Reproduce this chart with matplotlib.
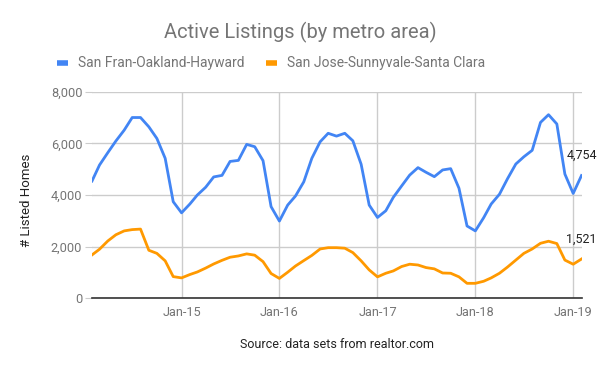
import matplotlib
matplotlib.use("Agg")
import matplotlib.pyplot as plt
from matplotlib.lines import Line2D
import pandas as pd

plt.rcParams['font.family'] = ['Roboto', 'DejaVu Sans']

dates = pd.date_range("2014-02-01", "2019-02-01", freq="MS")

sf_oakland = [
    4540, 5160, 5640, 6090, 6510, 7000, 7000, 6640, 6190, 5420, 3740,
    3310, 3650, 4000, 4300, 4700, 4760, 5300, 5340, 5960, 5870, 5330, 3550,
    2990, 3610, 3960, 4510, 5420, 6060, 6390, 6280, 6390, 6100, 5190, 3610,
    3130, 3390, 3910, 4350, 4770, 5060, 4880, 4710, 4970, 5020, 4260, 2800,
    2610, 3120, 3650, 4030, 4630, 5200, 5480, 5730, 6810, 7110, 6750, 4810,
    4060, 4754,
]
sj_santa_clara = [
    1680, 1900, 2220, 2460, 2610, 2660, 2680, 1860, 1740, 1450, 840,
    790, 920, 1020, 1170, 1330, 1470, 1590, 1640, 1720, 1670, 1420, 960,
    770, 1010, 1250, 1460, 1660, 1910, 1960, 1960, 1940, 1770, 1450, 1100,
    830, 970, 1060, 1230, 1320, 1290, 1190, 1140, 980, 970, 830, 580,
    580, 660, 790, 970, 1210, 1480, 1740, 1910, 2130, 2210, 2120, 1480,
    1320, 1521,
]
series_names = ["San Fran-Oakland-Hayward", "San Jose-Sunnyvale-Santa Clara"]
colors = ["#4285F4", "#FF9900"]
y_ticks = [0, 2000, 4000, 6000, 8000]
x_tick_dates = pd.to_datetime(["2015-01-01", "2016-01-01", "2017-01-01", "2018-01-01", "2019-01-01"])
x_tick_labels = ["Jan-15", "Jan-16", "Jan-17", "Jan-18", "Jan-19"]

W, H = 600, 371
fig = plt.figure(figsize=(6, 3.71), dpi=100)
ax = fig.add_axes([92/W, 1 - 298.3/H, (581.5-92)/W, (298.3-91.7)/H])

for vals, c, n in zip([sf_oakland, sj_santa_clara], colors, series_names):
    ax.plot(dates, vals, color=c, lw=2, label=n, solid_joinstyle='round', zorder=3)

ax.set_xlim(dates[0], dates[-1])
ax.set_ylim(0, 8000)
ax.set_yticks(y_ticks)
ax.set_yticklabels([f"{v:,}" for v in y_ticks])
ax.set_xticks(x_tick_dates)
ax.set_xticklabels(x_tick_labels)
ax.grid(True, color="#cccccc", lw=1, zorder=0)
for s in ["top", "right", "left"]:
    ax.spines[s].set_visible(False)
ax.spines["bottom"].set_color("#333333")
ax.spines["bottom"].set_linewidth(1.2)
ax.spines["bottom"].set_zorder(4)
ax.tick_params(axis='y', length=5, color="#cccccc", labelcolor="#757575", labelsize=9.2, pad=2)
ax.tick_params(axis='x', length=0, labelcolor="#757575", labelsize=9.2, pad=5.5)

fig.text(27/W, 1 - 200/H, "# Listed Homes", rotation=90, ha="center", va="center",
         color="#222222", fontsize=9.5)

# end annotations
for vals in [sf_oakland, sj_santa_clara]:
    ax.annotate(f"{vals[-1]:,}", xy=(dates[-1], vals[-1]), xytext=(0, 11.8),
                textcoords="offset points", ha="center", va="baseline",
                fontsize=9, color="#222222", zorder=5)

fig.text(300/W, 1 - 32/H, "Active Listings (by metro area)", ha="center", va="center",
         fontsize=14.5, color="#757575")

# legend (drawn manually in figure pixel positions)
legend_items = [(56.7, 77.5, 0), (265.7, 286.7, 1)]
for mx, tx, i in legend_items:
    fig.add_artist(Line2D([mx/W, (mx + 11.5)/W], [1 - 63.3/H, 1 - 63.3/H],
                          transform=fig.transFigure, color=colors[i], lw=4,
                          solid_capstyle='butt'))
    fig.text(tx/W, 1 - 63.3/H, series_names[i], ha="left", va="center",
             fontsize=10, color="#757575")

fig.text(336.5/W, 1 - 345/H, "Source: data sets from realtor.com", ha="center", va="center",
         fontsize=9, color="#222222")

fig.savefig("out.png", dpi=100, facecolor="white")
